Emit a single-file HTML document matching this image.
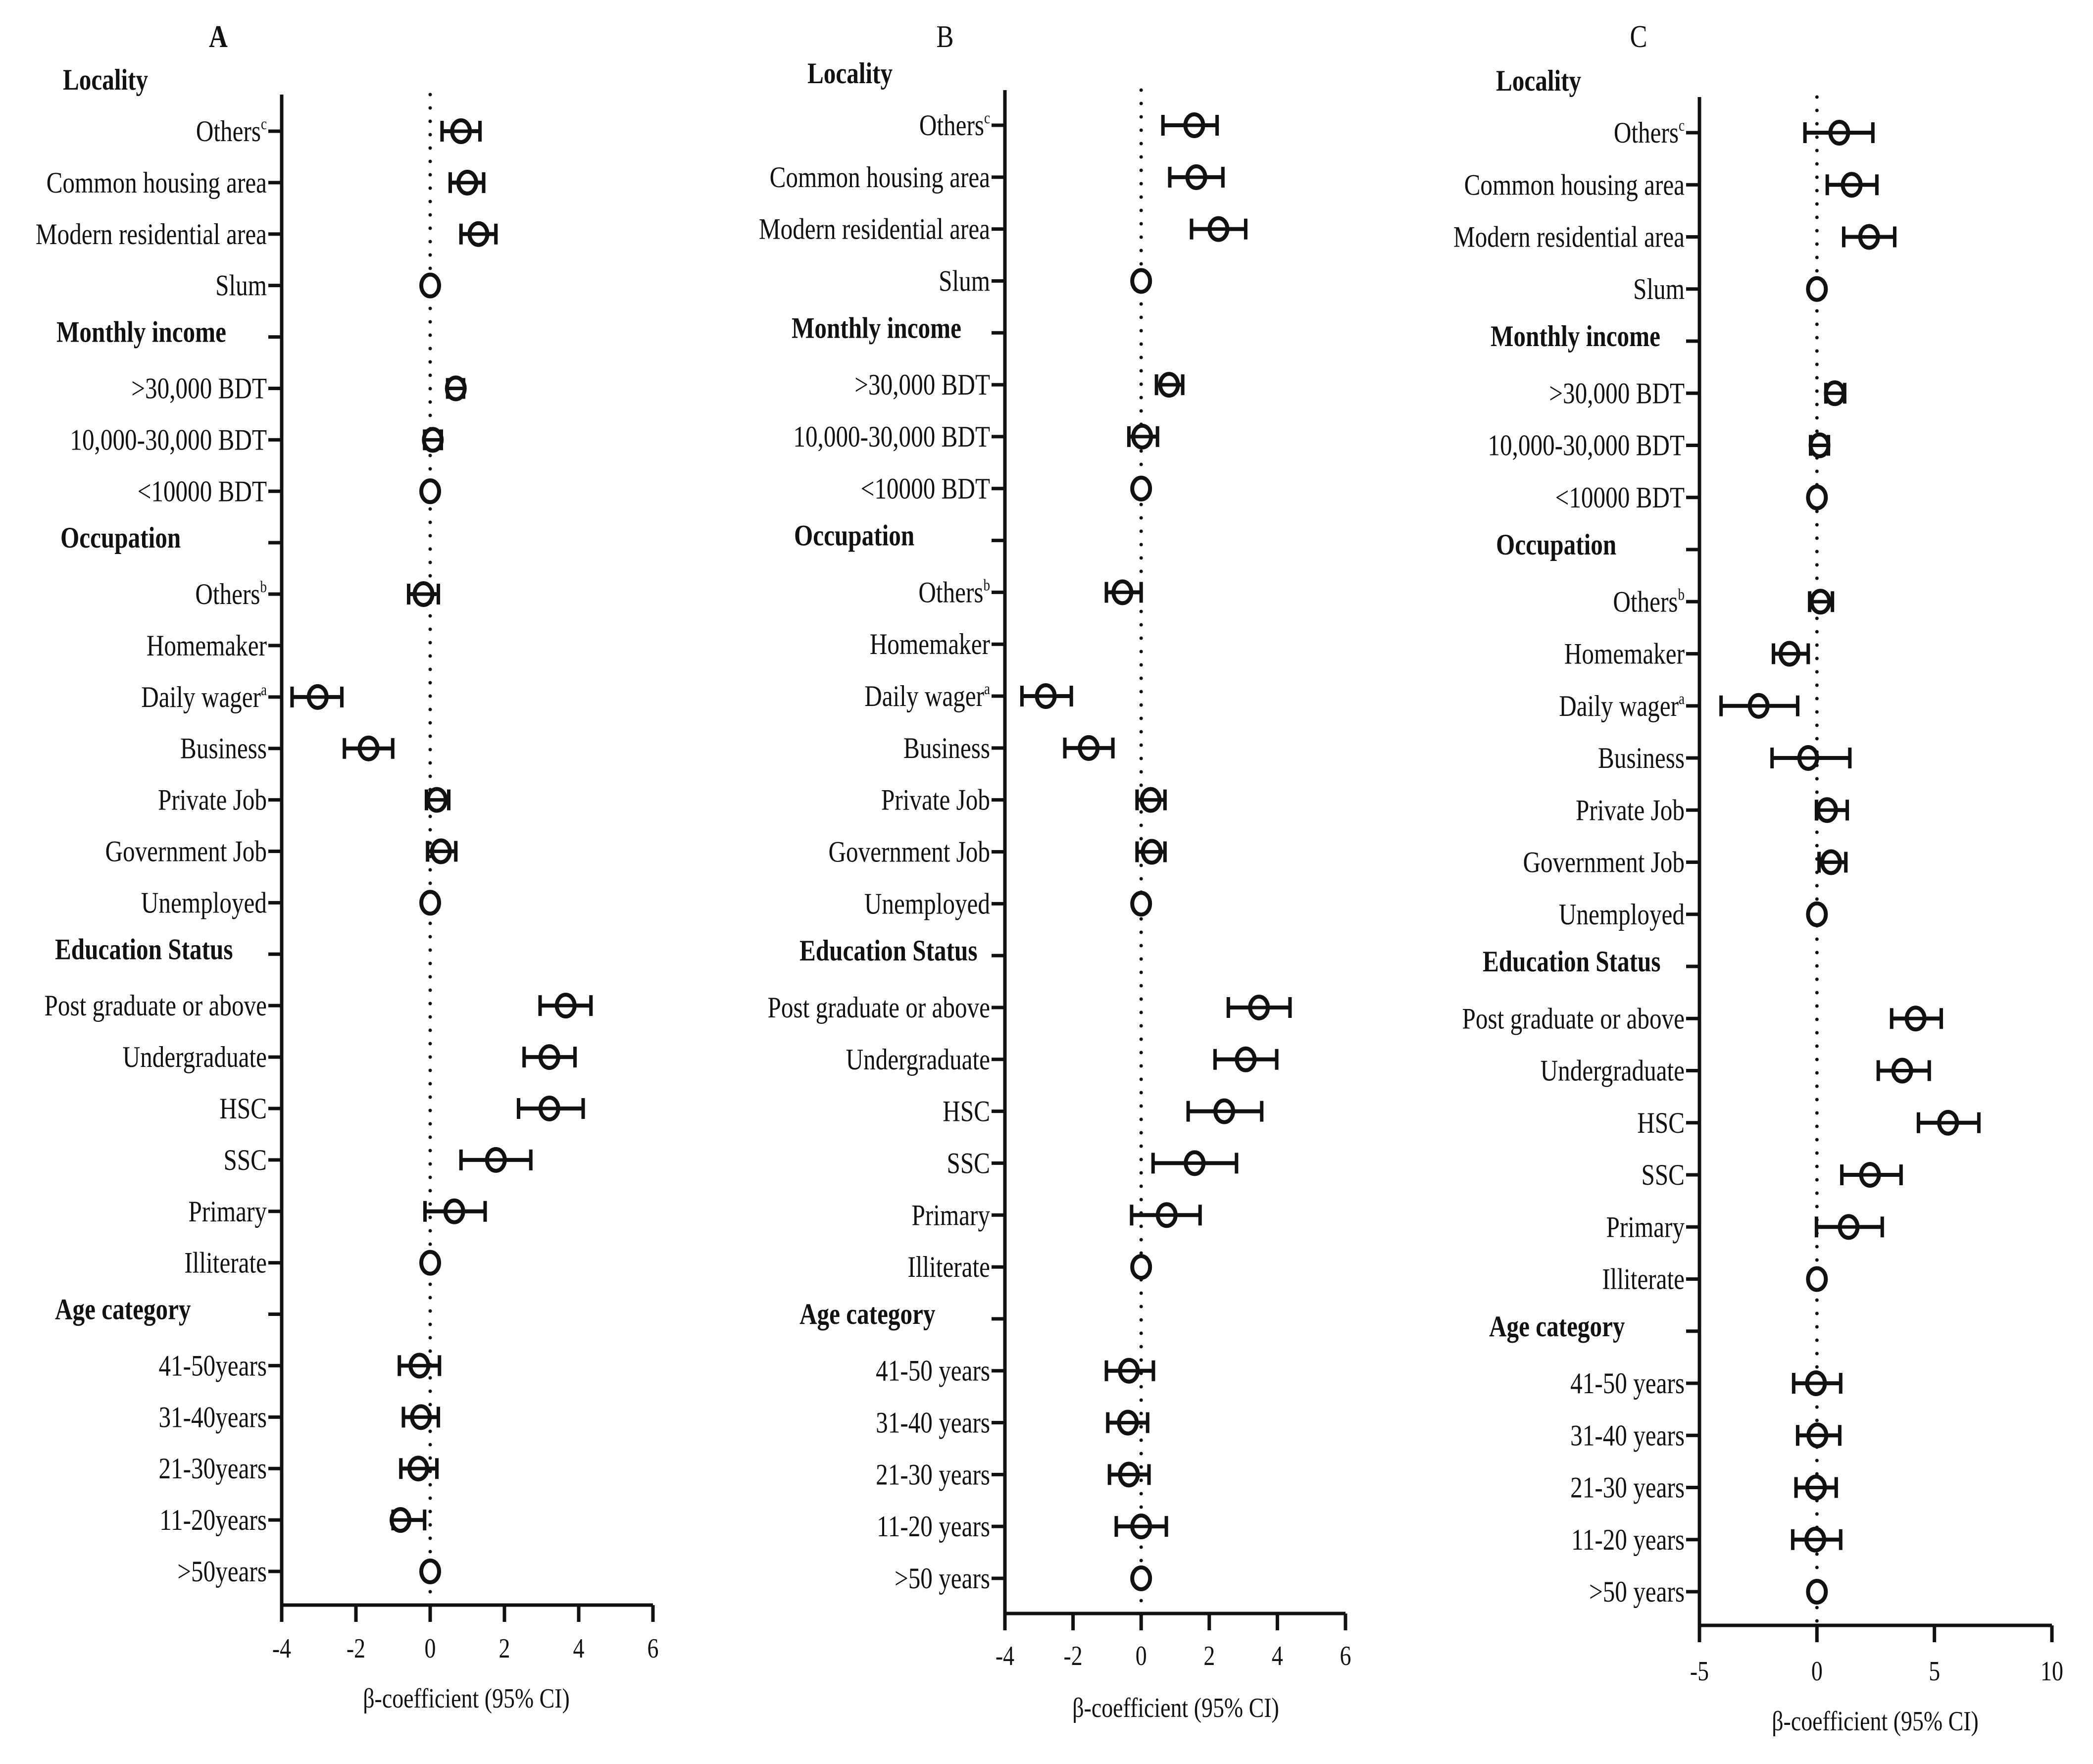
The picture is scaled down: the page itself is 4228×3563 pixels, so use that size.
<!DOCTYPE html>
<html><head><meta charset="utf-8">
<style>
html,body{margin:0;padding:0;background:#fff;}
svg{display:block;}
text{font-family:"Liberation Serif","Times New Roman",serif;fill:#111;}
</style></head>
<body>
<svg id="chart" width="4228" height="3563" viewBox="0 0 4228 3563" xmlns="http://www.w3.org/2000/svg"></svg>
<script>
// ---- row structure (shared): h = header, i = item ----
const rowTypes = ["i","i","i","i","h","i","i","i","h","i","i","i","i","i","i","i","h","i","i","i","i","i","i","h","i","i","i","i","i"];
const labelsA = ["Others|c","Common housing area","Modern residential area","Slum","Monthly income",">30,000 BDT","10,000-30,000 BDT","<10000 BDT","Occupation","Others|b","Homemaker","Daily wager|a","Business","Private Job","Government Job","Unemployed","Education Status","Post graduate or above","Undergraduate","HSC","SSC","Primary","Illiterate","Age category","41-50years","31-40years","21-30years","11-20years",">50years"];
const labelsBC = ["Others|c","Common housing area","Modern residential area","Slum","Monthly income",">30,000 BDT","10,000-30,000 BDT","<10000 BDT","Occupation","Others|b","Homemaker","Daily wager|a","Business","Private Job","Government Job","Unemployed","Education Status","Post graduate or above","Undergraduate","HSC","SSC","Primary","Illiterate","Age category","41-50 years","31-40 years","21-30 years","11-20 years",">50 years"];

// ---- Panel A data ----
const betaA = [0.83,1.0,1.3,0,null,0.69,0.07,0,null,-0.18,null,-3.03,-1.66,0.18,0.29,0,null,3.65,3.21,3.21,1.77,0.65,0,null,-0.29,-0.25,-0.32,-0.8,0];
const lowA  = [0.32,0.54,0.83,0,null,0.47,-0.15,0,null,-0.58,null,-3.72,-2.31,-0.1,-0.07,0,null,2.96,2.53,2.38,0.83,-0.14,0,null,-0.83,-0.72,-0.79,-1.0,0];
const highA = [1.34,1.44,1.77,0,null,0.9,0.3,0,null,0.22,null,-2.38,-1.01,0.5,0.69,0,null,4.33,3.9,4.12,2.71,1.48,0,null,0.25,0.22,0.18,-0.15,0];
const ticksA = [-4,-2,0,2,4,6];
// ---- Panel B data ----
const betaB = [1.56,1.62,2.27,0,null,0.82,0.03,0,null,-0.55,null,-2.8,-1.54,0.28,0.31,0,null,3.46,3.07,2.44,1.57,0.75,0,null,-0.36,-0.39,-0.36,0,0];
const lowB  = [0.64,0.84,1.48,0,null,0.45,-0.36,0,null,-1.02,null,-3.5,-2.24,-0.12,-0.12,0,null,2.56,2.17,1.38,0.35,-0.28,0,null,-1.02,-0.98,-0.93,-0.73,0];
const highB = [2.23,2.4,3.07,0,null,1.22,0.48,0,null,0,null,-2.05,-0.83,0.7,0.7,0,null,4.37,3.98,3.54,2.8,1.73,0,null,0.36,0.19,0.23,0.74,0];
const ticksB = [-4,-2,0,2,4,6];
// ---- Panel C data ----
const betaC = [0.95,1.48,2.22,0,null,0.76,0.11,0,null,0.15,-1.17,-2.48,-0.37,0.43,0.6,0,null,4.2,3.63,5.58,2.26,1.35,0,null,-0.04,0.02,-0.04,-0.07,0];
const lowC  = [-0.51,0.44,1.14,0,null,0.38,-0.27,0,null,-0.31,-1.85,-4.08,-1.91,-0.02,0.09,0,null,3.18,2.61,4.32,1.06,-0.02,0,null,-0.99,-0.82,-0.89,-1.03,0];
const highC = [2.38,2.55,3.31,0,null,1.18,0.49,0,null,0.66,-0.37,-0.82,1.4,1.29,1.23,0,null,5.29,4.78,6.89,3.58,2.78,0,null,1.01,0.97,0.82,1.01,0];
const ticksC = [-5,0,5,10];

const NS = "http://www.w3.org/2000/svg";
const svg = document.getElementById("chart");
function mk(tag, attrs, parent){const e=document.createElementNS(NS,tag);for(const k in attrs)e.setAttribute(k,attrs[k]);(parent||svg).appendChild(e);return e;}
const SX = 0.82;
function txt(parent,x,y,str,anchor,size,bold){
  const t=mk("text",{transform:`translate(${x},${y}) scale(${SX},1)`,"text-anchor":anchor,"font-size":size,"font-weight":bold?"bold":"normal"},parent);
  const parts=str.split("|");
  t.appendChild(document.createTextNode(parts[0]));
  if(parts[1]){const s=mk("tspan",{"font-size":size*0.55,dy:-size*0.4},t);s.textContent=parts[1];}
  return t;
}

const panels = [
 {id:"a",title:"A",titleX:441,titleBold:true,labels:labelsA,beta:betaA,low:lowA,high:highA,ticks:ticksA,
  axX:569,xMin:-4,xMax:6,xRight:1319,y0:265,y28:3174,axTop:191,axY:3242,tickLblY:3348,xlabX:942,xlabY:3449,
  headX:{4:114,8:122,16:111,23:111},locX:127},
 {id:"b",title:"B",titleX:1909,titleBold:false,labels:labelsBC,beta:betaB,low:lowB,high:highB,ticks:ticksB,
  axX:2030,xMin:-4,xMax:6,xRight:2718,y0:253,y28:3188,axTop:182,axY:3259,tickLblY:3363,xlabX:2375,xlabY:3468,
  headX:{4:1599,8:1604,16:1615,23:1615},locX:1631},
 {id:"c",title:"C",titleX:3310,titleBold:false,labels:labelsBC,beta:betaC,low:lowC,high:highC,ticks:ticksC,
  axX:3433,xMin:-5,xMax:10,xRight:4145,y0:268,y28:3215,axTop:196,axY:3283,tickLblY:3394,xlabX:3788,xlabY:3495,
  headX:{4:3011,8:3022,16:2995,23:3008},locX:3022}
];

panels.forEach(p=>{
  const g=mk("g",{});
  
  
  const xs=v=>p.axX+(v-p.xMin)/(p.xMax-p.xMin)*(p.xRight-p.axX);
  const step=(p.y28-p.y0)/28;
  const ys=i=>p.y0+i*step;
  const t=txt(g,p.titleX,95,p.title,"middle",64,p.titleBold);
  
  
  const loc=txt(g,p.locX,ys(-1)+20,"Locality","start",60,true);
  
  
  const ax=mk("path",{d:`M${p.axX},${p.axTop} L${p.axX},${p.axY} L${p.xRight},${p.axY}`,fill:"none",stroke:"#111","stroke-width":7},g);
  
  
  const z=mk("line",{x1:xs(0),x2:xs(0),y1:p.axTop,y2:p.axY-8,stroke:"#111","stroke-width":7,"stroke-dasharray":"0 27","stroke-linecap":"round"},g);
  
  
  p.ticks.forEach(v=>{
    mk("line",{x1:xs(v),x2:xs(v),y1:p.axY,y2:p.axY+34,stroke:"#111","stroke-width":7},g);
    const tl=txt(g,xs(v),p.tickLblY,String(v),"middle",56,false);
    
    
  });
  const xl=txt(g,p.xlabX,p.xlabY,"β-coefficient (95% CI)","middle",56,false);
  
  
  rowTypes.forEach((ty,i)=>{
    const y=ys(i);
    mk("line",{x1:p.axX-27,x2:p.axX,y1:y,y2:y,stroke:"#111","stroke-width":7},g);
    if(ty==="h"){
      const h=txt(g,p.headX[i],y+10,p.labels[i],"start",60,true);
      
      
      return;
    }
    const l=txt(g,p.axX-30,y+20,p.labels[i],"end",60,false);
    
    
    const b=p.beta[i];
    if(b===null) return;
    const m=mk("g",{},g);
    
    
    const lo=p.low[i], hi=p.high[i];
    if(hi-lo>0.001){
      mk("line",{x1:xs(lo),x2:xs(hi),y1:y,y2:y,stroke:"#111","stroke-width":8},m);
      mk("line",{x1:xs(lo),x2:xs(lo),y1:y-21,y2:y+21,stroke:"#111","stroke-width":7},m);
      mk("line",{x1:xs(hi),x2:xs(hi),y1:y-21,y2:y+21,stroke:"#111","stroke-width":7},m);
    }
    mk("ellipse",{cx:xs(b),cy:y,rx:18,ry:22,fill:"#fff",stroke:"#111","stroke-width":8},m);
    if(hi-lo>0.001) mk("line",{x1:xs(b)-18,x2:xs(b)+18,y1:y,y2:y,stroke:"#111","stroke-width":7},m);
  });
});
</script>
</body></html>
